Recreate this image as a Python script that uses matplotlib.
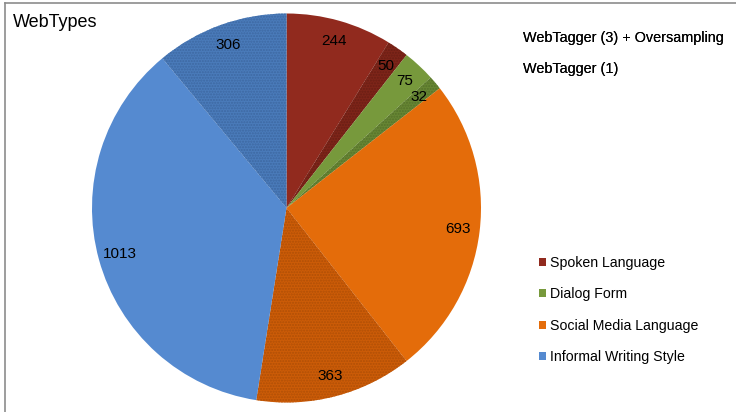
import matplotlib
matplotlib.use("Agg")
import matplotlib.pyplot as plt
from matplotlib.patches import Patch
from matplotlib.lines import Line2D

plt.rcParams['font.family'] = ['Liberation Sans', 'DejaVu Sans']

# Slice counts, clockwise from 12 o'clock
values = [244, 50, 75, 32, 693, 363, 1013, 306]
categories = ["Spoken Language", "Dialog Form", "Social Media Language", "Informal Writing Style"]
variants = ["WebTagger (3) + Oversampling", "WebTagger (1)"]
title = "WebTypes"

base_colors = ["#912A1E", "#77993C", "#E46C0A", "#558AD0"]
dark_colors = ["#7E2519", "#678634", "#CC5C08", "#4A7BBA"]
dot_colors = ["#6A1E14", "#56722A", "#B04F06", "#3D68A2"]

W, H = 736, 412
fig = plt.figure(figsize=(W / 100, H / 100), dpi=100)

# square axes so the pie keeps a circular outline
R = 194.5
cx, cy = 286.5, 208
ax = fig.add_axes([(cx - R) / W, (H - cy - R) / H, 2 * R / W, 2 * R / H])

face = []
hatch = []
edge = []
for i in range(len(values)):
    c = i // 2
    if i % 2 == 0:
        face.append(base_colors[c]); hatch.append(None); edge.append(base_colors[c])
    else:
        face.append(dark_colors[c]); hatch.append("......"); edge.append(dot_colors[c])

wedges, texts, autotexts = ax.pie(
    values, startangle=90, counterclock=False, colors=face,
    autopct=lambda p: f"{round(p * sum(values) / 100)}", pctdistance=0.89,
    wedgeprops=dict(linewidth=0), textprops=dict(fontsize=11, color="black"),
)
plt.rcParams['hatch.linewidth'] = 1.0
for w, h, e in zip(wedges, hatch, edge):
    if h:
        w.set_hatch(h)
        w.set_edgecolor(e)
        w.set_linewidth(0)
ax.set_xlim(-1, 1)
ax.set_ylim(-1, 1)
ax.set_aspect("equal")
ax.axis("off")

fig.text(13 / W, 1 - 27 / H, title, fontsize=13, ha="left", va="baseline")

# outer frame: top and left edges only
fig.add_artist(Line2D([5 / W, 1], [1 - 3 / H, 1 - 3 / H], color="#8C8C8C", lw=1.2, transform=fig.transFigure))
fig.add_artist(Line2D([5 / W, 5 / W], [0, 1 - 3 / H], color="#8C8C8C", lw=1.2, transform=fig.transFigure))

# series legend (plain text entries)
h1 = [Patch(facecolor="none", edgecolor="none") for _ in variants]
leg1 = fig.legend(h1, variants, loc="upper left", bbox_to_anchor=(523 / W, 1 - 31 / H),
                  frameon=False, fontsize=10.4, handlelength=0, handletextpad=0,
                  borderpad=0, borderaxespad=0, labelspacing=1.2)
fig.add_artist(leg1)

h2 = [Patch(facecolor=c, edgecolor="none") for c in base_colors]
fig.legend(h2, categories, loc="upper left", bbox_to_anchor=(539 / W, 1 - 256 / H),
           frameon=False, fontsize=10.2, handlelength=0.5, handleheight=0.5,
           handletextpad=0.3, borderpad=0, borderaxespad=0, labelspacing=1.22)

fig.savefig("out.png", dpi=100)
